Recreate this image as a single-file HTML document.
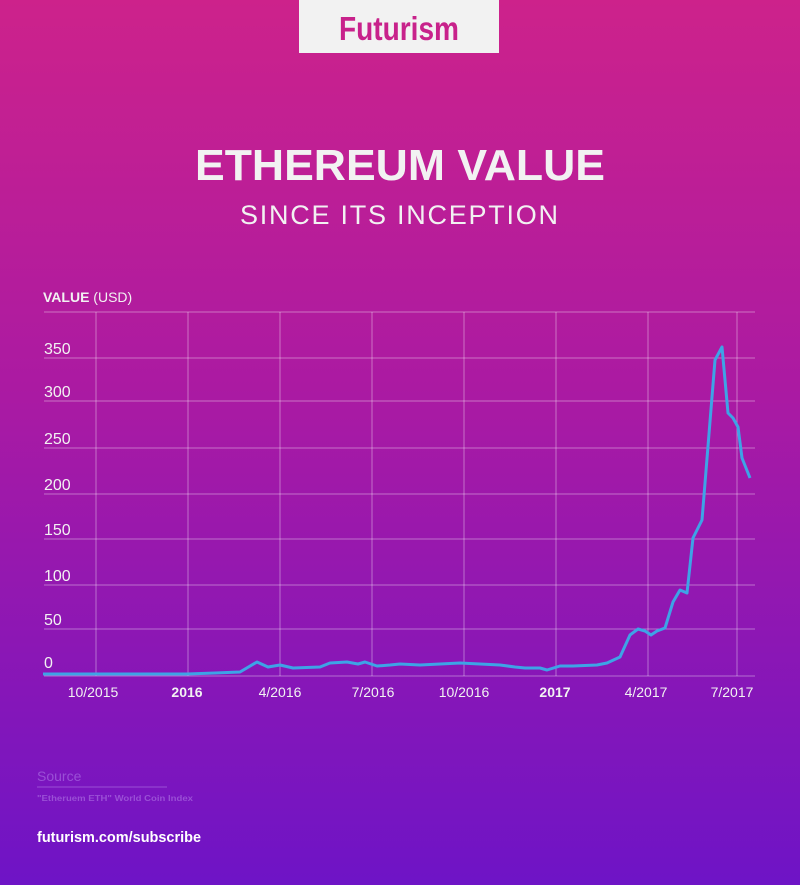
<!DOCTYPE html>
<html><head><meta charset="utf-8"><style>
html,body{margin:0;padding:0;width:800px;height:885px;overflow:hidden}
</style></head><body>
<svg width="800" height="885" xmlns="http://www.w3.org/2000/svg" style="display:block">
<defs><linearGradient id="bg" x1="0" y1="0" x2="0" y2="1">
<stop offset="0" stop-color="#cd228b"/><stop offset="0.45" stop-color="#aa1aa3"/><stop offset="1" stop-color="#6e14c6"/>
</linearGradient></defs>
<rect width="800" height="885" fill="url(#bg)"/>
<rect x="299" y="0" width="200" height="53" fill="#f2f2f2"/>
<text x="399" y="40" text-anchor="middle" font-family="Liberation Sans, sans-serif" font-weight="bold" font-size="33" fill="#c8228b" textLength="120" lengthAdjust="spacingAndGlyphs">Futurism</text>
<text x="400" y="180" text-anchor="middle" font-family="Liberation Sans, sans-serif" font-weight="bold" font-size="44" fill="#f2f2f2" textLength="410" lengthAdjust="spacingAndGlyphs">ETHEREUM VALUE</text>
<text x="399" y="224" text-anchor="middle" font-family="Liberation Sans, sans-serif" font-size="27" fill="#f2f2f2" textLength="318" lengthAdjust="spacing">SINCE ITS INCEPTION</text>
<text x="43" y="302" font-family="Liberation Sans, sans-serif" font-size="14" fill="#f2f2f2"><tspan font-weight="bold">VALUE</tspan> (USD)</text>
<g stroke="#ffffff" stroke-opacity="0.38" stroke-width="1">
<line x1="44" y1="312" x2="755" y2="312"/><line x1="44" y1="358" x2="755" y2="358"/><line x1="44" y1="401" x2="755" y2="401"/><line x1="44" y1="448" x2="755" y2="448"/><line x1="44" y1="494" x2="755" y2="494"/><line x1="44" y1="539" x2="755" y2="539"/><line x1="44" y1="585" x2="755" y2="585"/><line x1="44" y1="629" x2="755" y2="629"/><line x1="44" y1="676" x2="755" y2="676"/>
<line x1="96" y1="312" x2="96" y2="676"/><line x1="188" y1="312" x2="188" y2="676"/><line x1="280" y1="312" x2="280" y2="676"/><line x1="372" y1="312" x2="372" y2="676"/><line x1="464" y1="312" x2="464" y2="676"/><line x1="556" y1="312" x2="556" y2="676"/><line x1="648" y1="312" x2="648" y2="676"/><line x1="737" y1="312" x2="737" y2="676"/>
</g>
<g font-family="Liberation Sans, sans-serif" font-size="16" fill="#f2f2f2">
<text x="44" y="354">350</text><text x="44" y="397">300</text><text x="44" y="444">250</text><text x="44" y="490">200</text><text x="44" y="535">150</text><text x="44" y="581">100</text><text x="44" y="625">50</text><text x="44" y="668">0</text>
</g>
<g font-family="Liberation Sans, sans-serif" font-size="14" fill="#f2f2f2" text-anchor="middle">
<text x="93" y="697">10/2015</text><text x="187" y="697" font-weight="bold">2016</text><text x="280" y="697">4/2016</text><text x="373" y="697">7/2016</text><text x="464" y="697">10/2016</text><text x="555" y="697" font-weight="bold">2017</text><text x="646" y="697">4/2017</text><text x="732" y="697">7/2017</text>
</g>
<polyline fill="none" stroke="#3ea3e6" stroke-width="3" stroke-linejoin="round" points="43,674 187,674 215,673 240,672 257,662 268,667 280,665 293,668 320,667 330,663 347,662 358,664 365,662 377,666 390,665 400,664 420,665 440,664 460,663 480,664 500,665 515,667 525,668 540,668 547,670 560,666 573,666 597,665 607,663 620,657 630,635 638,629 645,631 651,635 657,631 665,628 673,602 680,590 687,593 693,538 702,520 715,360 722,347 728,413 733,418 738,427 742,458 750,478"/>
<text x="37" y="781" font-family="Liberation Sans, sans-serif" font-size="14" fill="#9a4fd6">Source</text>
<line x1="37" y1="787" x2="167" y2="787" stroke="#9a4fd6" stroke-width="1"/>
<text x="37" y="801" font-family="Liberation Sans, sans-serif" font-size="8" font-weight="bold" fill="#9a4fd6" textLength="156" lengthAdjust="spacingAndGlyphs">"Etheruem ETH" World Coin Index</text>
<text x="37" y="842" font-family="Liberation Sans, sans-serif" font-size="14.5" font-weight="bold" fill="#ffffff" textLength="164" lengthAdjust="spacingAndGlyphs">futurism.com/subscribe</text>
</svg>
</body></html>
